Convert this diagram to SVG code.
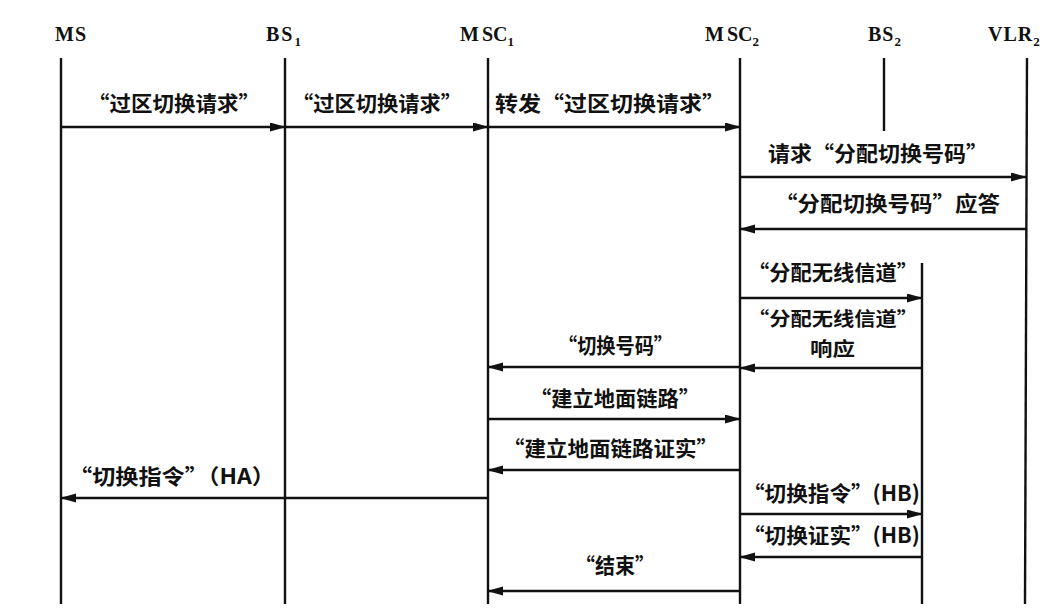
<svg xmlns="http://www.w3.org/2000/svg" width="1062" height="611" viewBox="0 0 1062 611">
<style>
.life{stroke:#111;stroke-width:2.4;fill:none}
.msg{stroke:#111;stroke-width:2.4;fill:none;marker-end:url(#ah)}
.hd{font-family:"Liberation Serif","DejaVu Serif",serif;font-weight:bold;font-size:20px;fill:#111}
.sub{font-size:13px}
.lb{font-family:"Noto Sans CJK SC","Noto Sans",sans-serif;font-weight:bold;font-size:21px;fill:#111}
.sm{font-size:19px}
</style>
<defs>
<marker id="ah" markerUnits="userSpaceOnUse" markerWidth="16" markerHeight="10" refX="15" refY="4.5" orient="auto">
<path d="M0,0 L16,4.5 L0,9 Z" fill="#111"/>
</marker>
</defs>
<rect width="1062" height="611" fill="#fff"/>
<g id="MS"><text class="hd" x="55" y="41" letter-spacing="1">MS</text><line class="life" x1="61" y1="58" x2="61" y2="604"/></g>
<g id="BS1"><text class="hd" x="266" y="41" letter-spacing="2">BS<tspan class="sub" dy="5">1</tspan></text><line class="life" x1="285" y1="58" x2="285" y2="604"/></g>
<g id="MSC1"><text class="hd" x="460" y="41"><tspan letter-spacing="3">M</tspan>SC<tspan class="sub" dy="5">1</tspan></text><line class="life" x1="488" y1="58" x2="488" y2="604"/></g>
<g id="MSC2"><text class="hd" x="705" y="41"><tspan letter-spacing="3">M</tspan>SC<tspan class="sub" dy="5">2</tspan></text><line class="life" x1="740" y1="58" x2="740" y2="604"/></g>
<g id="BS2"><text class="hd" x="868" y="41" letter-spacing="1">BS<tspan class="sub" dy="5">2</tspan></text><line class="life" x1="884" y1="58" x2="884" y2="131"/><line class="life" x1="922" y1="263" x2="922" y2="604"/></g>
<g id="VLR2"><text class="hd" x="988" y="41" letter-spacing="1">VLR<tspan class="sub" dy="5">2</tspan></text><line class="life" x1="1027" y1="58" x2="1025" y2="604"/></g>
<g id="connectors">
<line class="msg" x1="61" y1="127" x2="285" y2="127"/>
<line class="msg" x1="285" y1="127" x2="488" y2="127"/>
<line class="msg" x1="488" y1="127" x2="740" y2="127"/>
<line class="msg" x1="740" y1="177" x2="1026" y2="177"/>
<line class="msg" x1="1026" y1="229" x2="740" y2="229"/>
<line class="msg" x1="740" y1="298" x2="922" y2="298"/>
<line class="msg" x1="922" y1="368" x2="740" y2="368"/>
<line class="msg" x1="740" y1="367" x2="488" y2="367"/>
<line class="msg" x1="488" y1="419" x2="740" y2="419"/>
<line class="msg" x1="740" y1="470" x2="488" y2="470"/>
<line class="msg" x1="488" y1="498" x2="61" y2="498"/>
<line class="msg" x1="740" y1="514" x2="922" y2="514"/>
<line class="msg" x1="922" y1="557" x2="740" y2="557"/>
<line class="msg" x1="740" y1="591" x2="488" y2="591"/>
</g>
<g id="labels">
<text class="lb" x="88" y="111" textLength="172" lengthAdjust="spacingAndGlyphs">“过区切换请求”</text>
<text class="lb" x="292" y="111" textLength="170" lengthAdjust="spacingAndGlyphs">“过区切换请求”</text>
<text class="lb" x="495" y="111" textLength="230" lengthAdjust="spacingAndGlyphs">转发“过区切换请求”</text>
<text class="lb" x="768" y="161" textLength="220" lengthAdjust="spacingAndGlyphs">请求“分配切换号码”</text>
<text class="lb" x="775" y="211" textLength="225" lengthAdjust="spacingAndGlyphs">“分配切换号码”应答</text>
<text class="lb" x="748" y="280" textLength="170" lengthAdjust="spacingAndGlyphs">“分配无线信道”</text>
<text class="lb sm" x="748" y="326" textLength="170" lengthAdjust="spacingAndGlyphs">“分配无线信道”</text>
<text class="lb sm" x="810" y="356" textLength="45" lengthAdjust="spacingAndGlyphs">响应</text>
<text class="lb" x="558" y="353" textLength="115" lengthAdjust="spacingAndGlyphs">“切换号码”</text>
<text class="lb" x="530" y="406" textLength="170" lengthAdjust="spacingAndGlyphs">“建立地面链路”</text>
<text class="lb" x="503" y="456" textLength="215" lengthAdjust="spacingAndGlyphs">“建立地面链路证实”</text>
<text class="lb" x="69" y="484" textLength="206" lengthAdjust="spacingAndGlyphs">“切换指令”（HA）</text>
<text class="lb" x="743" y="501" textLength="177" lengthAdjust="spacingAndGlyphs">“切换指令”(HB)</text>
<text class="lb" x="743" y="543" textLength="177" lengthAdjust="spacingAndGlyphs">“切换证实”(HB)</text>
<text class="lb" x="575" y="573" textLength="80" lengthAdjust="spacingAndGlyphs">“结束”</text>
</g>
</svg>
